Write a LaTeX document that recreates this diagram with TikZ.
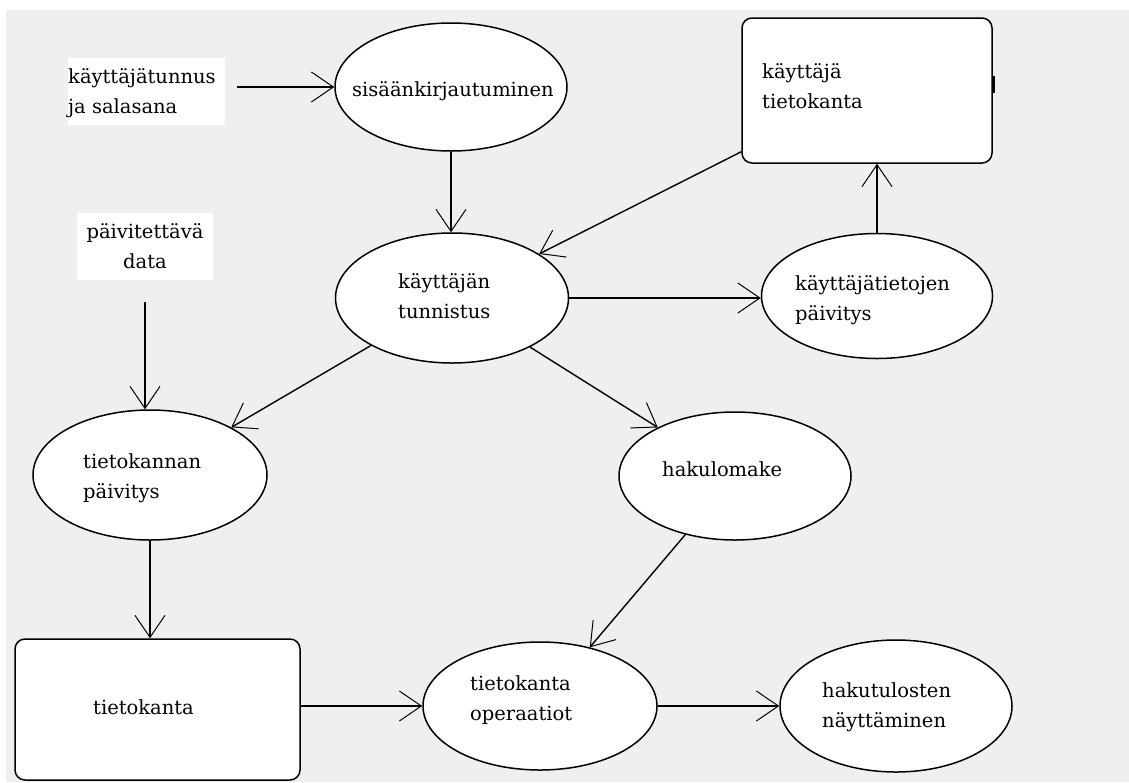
\documentclass[tikz,border=0pt]{standalone}
\usepackage{fontspec}
\setmainfont{DejaVu Serif}
\usetikzlibrary{shapes.geometric,arrows.meta}
\definecolor{bg}{RGB}{239,239,239}
\begin{document}
\begin{tikzpicture}[x=1pt,y=-1pt,
  font=\fontsize{19.5}{30}\selectfont,
  proc/.style={ellipse, draw, line width=1.5pt, fill=white, inner sep=0pt},
  store/.style={rectangle, rounded corners=10pt, draw, line width=1.5pt, fill=white, inner sep=0pt},
  src/.style={fill=white, inner sep=0pt},
  lbl/.style={align=left, inner sep=0pt, anchor=west},
  flow/.style={line width=1.4pt, -{Straight Barb[length=22pt,width=30pt,line width=1pt]}}]
\useasboundingbox (0,0) rectangle (1129,782);
\fill[bg] (6,10) rectangle (1129,782);

% processes
\node[proc, minimum width=232pt, minimum height=128pt] (E1) at (451,87) {};
\node[proc, minimum width=233pt, minimum height=130pt] (E2) at (452,298) {};
\node[proc, minimum width=231pt, minimum height=125pt] (E3) at (877,296) {};
\node[proc, minimum width=234pt, minimum height=130pt] (E4) at (150,475) {};
\node[proc, minimum width=232pt, minimum height=128pt] (E5) at (735,476) {};
\node[proc, minimum width=234pt, minimum height=128pt] (E6) at (540,706) {};
\node[proc, minimum width=232pt, minimum height=132pt] (E7) at (896,706) {};

% stores
\node[store, minimum width=250pt, minimum height=145pt] (D1) at (867,90.5) {};
\node[store, minimum width=285pt, minimum height=141pt] (D2) at (157.5,709.5) {};
\fill (992,76) rectangle (995,93);

% sources
\node[src, minimum width=157pt, minimum height=67pt] (S1) at (146.5,91.5) {};
\node[src, minimum width=136pt, minimum height=67pt] (S2) at (145,246.5) {};

% labels
\node[lbl] (t1) at (68,93) {käyttäjätunnus\\ja salasana};
\node[align=center, inner sep=0pt] (t2) at (145,246.5) {päivitettävä\\data};
\node[lbl] (t3) at (352,91) {sisäänkirjautuminen};
\node[lbl] (t4) at (398,296) {käyttäjän\\tunnistus};
\node[lbl] (t5) at (795,300) {käyttäjätietojen\\päivitys};
\node[lbl] (t6) at (762,86) {käyttäjä\\tietokanta};
\node[lbl] (t7) at (83,478) {tietokannan\\päivitys};
\node[lbl] (t8) at (662,469) {hakulomake};
\node[lbl] (t9) at (470,700) {tietokanta\\operaatiot};
\node[lbl] (t10) at (822,707) {hakutulosten\\näyttäminen};
\node[lbl] (t11) at (93,707) {tietokanta};

% flows
\draw[flow] ([xshift=12pt]S1.east |- E1.west) -- (E1.west);
\draw[flow] (E1.south) -- (E1.south |- E2.north);
\draw[flow] ([yshift=12pt]D1.south west) -- (E2);
\draw[flow] (E2.east) -- (E2.east -| E3.west);
\draw[flow] (E3.north) -- (E3.north |- D1.south);
\draw[flow] ([yshift=-22pt]S2.south) -- (S2.south |- E4.north);
\draw[flow] (E2) -- (E4);
\draw[flow] (E2) -- (E5);
\draw[flow] (E4.south) -- (E4.south |- D2.north);
\draw[flow] (E5) -- (E6);
\draw[flow] (D2.east |- E6.west) -- (E6.west);
\draw[flow] (E6) -- (E7);
\end{tikzpicture}
\end{document}
